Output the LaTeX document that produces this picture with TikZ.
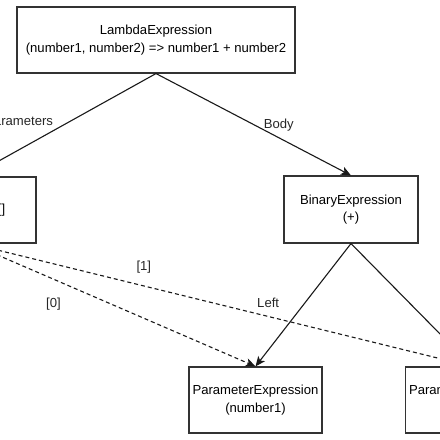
\documentclass[tikz,border=0pt]{standalone}
\usepackage{fontspec}
\setmainfont{Liberation Sans}
\usetikzlibrary{arrows.meta,positioning}

\begin{document}
\begin{tikzpicture}[
  x=1pt, y=-1pt,
  font=\fontsize{13.1}{17.5}\selectfont,
  every node/.style={align=center},
  box/.style={draw=black!80, line width=1.1pt, fill=white,
              minimum width=133pt, minimum height=66pt, inner sep=0pt},
  arr/.style={-{Stealth[length=10pt,width=8.5pt,inset=2.5pt]}, line width=1.1pt, draw=black!90},
  idx/.style={arr, dash pattern=on 4pt off 3pt},
  lbl/.style={inner sep=1pt, text=black!85}
]
\useasboundingbox (0,0) rectangle (440,440);
\clip (0,0) rectangle (440,440);

\node[box, minimum width=278pt] (lambda) at (156,40) {LambdaExpression\\(number1, number2) => number1 + number2};
\node[box, minimum width=130pt] (params) at (-29,210) {Parameter[]};
\node[box, minimum width=134pt, minimum height=67pt] (binary) at (351,209.5) {BinaryExpression\\(+)};
\node[box] (param1) at (255.5,400) {ParameterExpression\\(number1)};
\node[box] (param2) at (472,400) {ParameterExpression\\(number2)};

\draw[arr] (lambda.south) -- node[lbl, pos=0.74, yshift=29pt] (lblparams) {Parameters} (params.north);
\draw[arr] (lambda.south) -- node[lbl, pos=0.63, yshift=13pt] (lblbody) {Body} (binary.north);
\draw[arr] (binary.south) -- node[lbl, pos=0.48, xshift=-37pt] (lblleft) {Left} (param1.north);
\draw[arr] (binary.south) -- (param2.north);
\draw[idx] (params.south) -- node[lbl, pos=0.29, yshift=-25pt] (lblzero) {[0]} (param1.north);
\draw[idx] (params.south) -- node[lbl, pos=0.345, yshift=19pt] (lblone) {[1]} (param2.north);
\end{tikzpicture}
\end{document}
